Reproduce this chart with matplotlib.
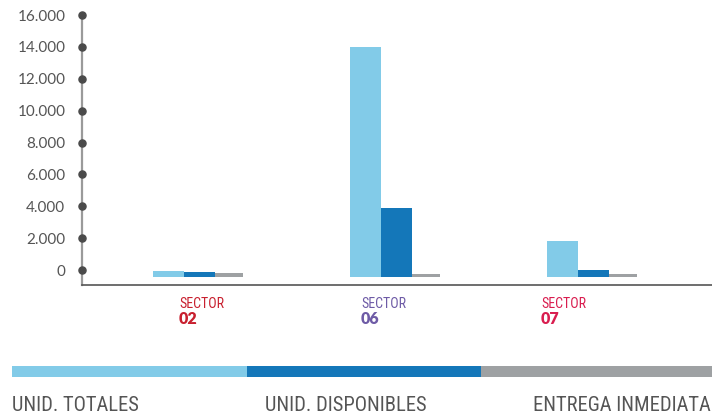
import matplotlib
matplotlib.use("Agg")
import matplotlib.pyplot as plt
from matplotlib import font_manager as fm
from matplotlib.transforms import blended_transform_factory
from matplotlib.patches import Rectangle

sectors = ["02", "06", "07"]
sector_colors = ["#c8202f", "#6e5ba6", "#d91d4f"]
series_names = ["UNID. TOTALES", "UNID. DISPONIBLES", "ENTREGA INMEDIATA"]
series_colors = ["#82cbe8", "#1477b9", "#9ea1a3"]
# values read against the tick scale (bar base sits slightly below 0)
unid_totales = [-60, 14000, 1820]
unid_disponibles = [-130, 3900, 0]
entrega_inmediata = [-190, -250, -250]
yticks = [0, 2000, 4000, 6000, 8000, 10000, 12000, 14000, 16000]
ytick_labels = ["0", "2.000", "4.000", "6.000", "8.000", "10.000", "12.000", "14.000", "16.000"]
BASE = -440


def is_regular(f):
    return f.style == "normal" and f.weight in ("normal", "regular", 400)


cands = []
for f in fm.fontManager.ttflist:
    n = f.name
    st = str(f.stretch)
    if ("Condensed" in n or "Narrow" in n or st in ("condensed", "semi-condensed", "extra-condensed")
            or (st.isdigit() and int(st) < 500)):
        cands.append(f)
cond = None
pref = ["Roboto Condensed", "Open Sans Condensed", "Liberation Sans Narrow", "DejaVu Sans Condensed"]
for p in pref:
    for f in cands:
        if f.name == p and is_regular(f):
            cond = fm.FontProperties(fname=f.fname)
            break
    if cond:
        break
if cond is None:
    for f in cands:
        if is_regular(f):
            cond = fm.FontProperties(fname=f.fname)
            break
if cond is None:
    for f in cands:
        if f.style == "normal":
            cond = fm.FontProperties(fname=f.fname)
            break
if cond is None:
    cond = fm.FontProperties(family="DejaVu Sans")

W, H = 712, 415
fig = plt.figure(figsize=(W / 100, H / 100), dpi=100)
ax = fig.add_axes([82 / W, 1 - 285 / H, (712 - 82) / W, (285 - 15) / H])
ax.set_ylim(-940, 16000)
ax.set_xlim(-0.596, 2.60)

xs = list(range(len(sectors)))
wl = 0.158
wg = 0.14
series = [unid_totales, unid_disponibles, entrega_inmediata]
offsets = [-wl, 0, wl / 2 + wg / 2]
widths = [wl, wl, wg]
for vals, col, off, w in zip(series, series_colors, offsets, widths):
    ax.bar([x + off for x in xs], [v - BASE for v in vals], bottom=BASE,
           width=w, color=col, linewidth=0)

for s in ["top", "right"]:
    ax.spines[s].set_visible(False)
ax.spines["left"].set_color("#9a9a9a")
ax.spines["left"].set_linewidth(1.6)
ax.spines["left"].set_bounds(-940, 16000)
ax.spines["bottom"].set_color("#555555")
ax.spines["bottom"].set_linewidth(1.2)
ax.set_xticks([])
ax.set_yticks(yticks)
ax.set_yticklabels(ytick_labels, fontsize=11, color="#555555", family="Lato")
ax.tick_params(axis="y", length=0, pad=12)
tr = blended_transform_factory(ax.transAxes, ax.transData)
ax.scatter([0] * len(yticks), yticks, s=26, color="#4a4a4a", transform=tr,
           zorder=5, clip_on=False)

# sector labels
label_x = [179, 361, 541]
for name, col, lx in zip(sectors, sector_colors, label_x):
    fp = cond.copy()
    fp.set_size(10)
    fig.text(lx / W, 1 - 304 / H, "SECTOR", color=col, fontproperties=fp,
             va="center", ha="left")
    fig.text(lx / W, 1 - 319 / H, name, color=col, fontsize=11.5,
             family="Lato", fontweight="heavy", va="center", ha="left")

# legend band
band = [(12, 247), (247, 481), (481, 712)]
text_x = [12, 265, 533]
for (x0, x1), col, name, tx in zip(band, series_colors, series_names, text_x):
    fig.patches.append(Rectangle((x0 / W, 1 - 377 / H), (x1 - x0) / W, 11 / H,
                                 transform=fig.transFigure, color=col, lw=0))
    fp = cond.copy()
    fp.set_size(14.8)
    fig.text(tx / W, 1 - 405 / H, name, color="#555555", fontproperties=fp,
             va="center", ha="left")

fig.savefig("out.png", dpi=100)
